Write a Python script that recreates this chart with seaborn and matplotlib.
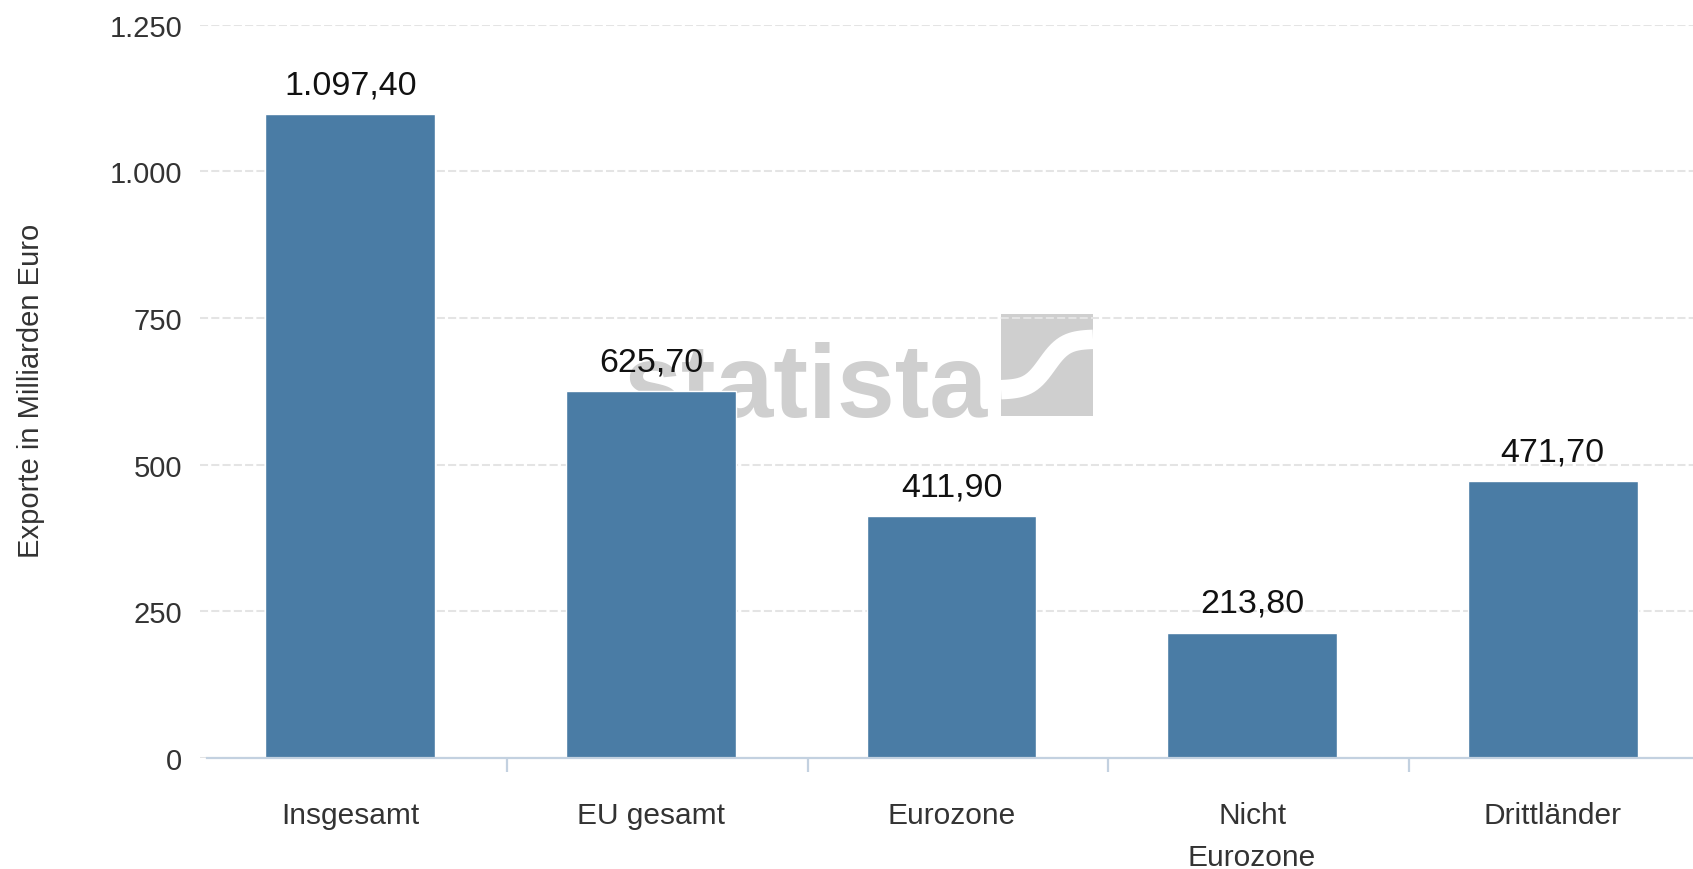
import matplotlib
matplotlib.use("Agg")
import matplotlib.pyplot as plt
import seaborn as sns
import numpy as np
from matplotlib.patches import Rectangle
from matplotlib.lines import Line2D

categories = ["Insgesamt", "EU gesamt", "Eurozone", "Nicht\nEurozone", "Drittländer"]
values = [1097.4, 625.7, 411.9, 213.8, 471.7]
value_labels = ["1.097,40", "625,70", "411,90", "213,80", "471,70"]
y_ticks = [0, 250, 500, 750, 1000, 1250]
y_tick_labels = ["0", "250", "500", "750", "1.000", "1.250"]
y_label = "Exporte in Milliarden Euro"

sns.set_theme(style="white")
plt.rcParams['font.family'] = ['Liberation Sans', 'DejaVu Sans']

W, H = 1693, 870
fig = plt.figure(figsize=(W / 100, H / 100), dpi=100)
fig.patch.set_facecolor("white")
ax = fig.add_axes([200 / W, 1 - 759 / H, 1503 / W, (759 - 25.7) / H])
ax.patch.set_alpha(0)

sns.barplot(x=categories, y=values, color="#4a7ca5", width=0.565,
            saturation=1, ax=ax, zorder=2)

ax.set_xlim(-0.5, 4.5)
ax.set_ylim(0, 1250)
ax.set_yticks(y_ticks)
ax.set_yticklabels(y_tick_labels)
ax.set_xlabel("")
ax.set_ylabel("")

ax.set_axisbelow(True)
ax.yaxis.grid(True, color="#e4e4e4", linewidth=1.45, linestyle=(0, (4, 1.6)))
ax.xaxis.grid(False)

for s in ["left", "top", "right"]:
    ax.spines[s].set_visible(False)
ax.spines["bottom"].set_color("#c3d1e0")
ax.spines["bottom"].set_linewidth(1.6)
ax.spines["bottom"].set_zorder(3)
ax.spines["bottom"].set_bounds(-0.478, 4.5)

ax.tick_params(axis="y", length=0, pad=12.8, labelsize=21, labelcolor="#333333")
ax.tick_params(axis="x", which="major", length=0, pad=31, labelsize=21.5,
               labelcolor="#333333")
ax.set_xticks(np.arange(0.5, 4.5, 1.0) + 0.022, minor=True)
ax.tick_params(axis="x", which="minor", bottom=True, length=10, width=1.6,
               color="#c3d1e0", direction="out")
for t in ax.get_xticklabels():
    t.set_linespacing(1.65)

ax.bar_label(ax.containers[0], labels=value_labels, padding=10, fontsize=24.5,
             color="#111111", zorder=4)

fig.text(31 / W, 1 - 391 / H, y_label, rotation=90, ha="center", va="center",
         fontsize=21, color="#333333")

# watermark
ax.text(623 / W, 1 - 417 / H, "statista", transform=fig.transFigure,
        fontweight="bold", fontsize=75, color="#cfcfcf", ha="left",
        va="baseline", zorder=0.2, clip_on=False)
ax.add_patch(Rectangle((1001 / W, 1 - 417 / H), 92 / W, 102 / H,
                       transform=fig.transFigure, facecolor="#cfcfcf",
                       edgecolor="none", zorder=0.22, clip_on=False))
tt = np.linspace(0, 1, 40)
xs = (1001 + 92 * tt) / W
ys = 1 - (391 - 51 * (0.5 + 0.5 * np.tanh((tt - 0.5) * 5))) / H
ax.add_line(Line2D(xs, ys, transform=fig.transFigure, color="white",
                   linewidth=14, zorder=0.25, clip_on=False,
                   solid_capstyle="butt"))

fig.savefig("out.png", dpi=100)
